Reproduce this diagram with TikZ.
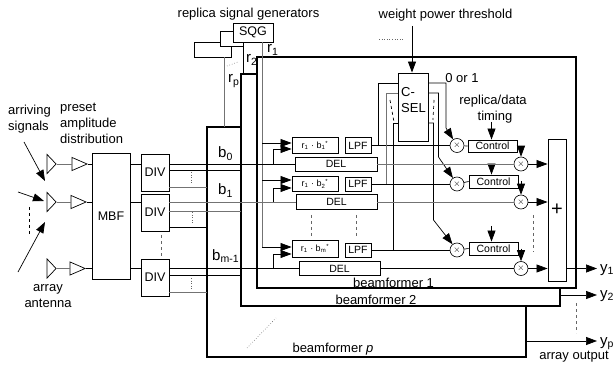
\documentclass[tikz,border=0pt]{standalone}
\usepackage{fontspec}
\setmainfont{Liberation Sans}
\usetikzlibrary{
    positioning,
    arrows.meta,
    shapes.geometric
}
\tikzset{
    wire/.style = {
        line width = 0.7pt
    },
    % Paler signal line:
    grey wire/.style = {
        line width = 0.9pt,
        draw = black!55
    },
    arrow/.style = {
        wire,
        ->,
        > = {
            Triangle[length=11pt, width=8pt]
        }
    },
    % Outline of a beamformer:
    frame/.style = {
        line width = 1.8pt
    },
    % Block with text:
    blockbox/.style = {
        rectangle,
        draw,
        fill = white,
        inner sep = 0pt,
        line width = 0.9pt,
        font = \fontsize{10.5}{12}\selectfont
    },
    big block/.style = {
        blockbox,
        font = \fontsize{12.5}{15}\selectfont
    },
    product/.style = {
        blockbox,
        font = \fontsize{9}{10}\selectfont
    },
    % Multiplier:
    mixer/.style = {
        circle,
        draw,
        fill = white,
        inner sep = 0pt,
        minimum size = 14pt,
        line width = 0.6pt,
        font = \fontsize{9}{10}\selectfont
    },
    % Antenna and amplifier:
    wedge/.style = {
        isosceles triangle,
        isosceles triangle stretches,
        draw,
        inner sep = 0pt,
        anchor = apex,
        line width = 0.7pt
    },
    tag/.style = {
        inner sep = 0pt,
        align = left,
        font = \fontsize{13}{16}\selectfont
    },
    signal/.style = {
        inner sep = 0pt,
        anchor = base west,
        font = \fontsize{15}{17}\selectfont
    },
    gap dots/.style = {
        dotted,
        line width = 0.6pt,
        draw = black!60
    },
    gap dash/.style = {
        dashed,
        line width = 0.9pt,
        draw = black!60
    }
}

\begin{document}
\begin{tikzpicture}[x=1pt, y=-1pt]
    \useasboundingbox (0, 0) rectangle (613, 366);
    % array front end
    \node [wedge, minimum width=19, minimum height=9] (ant1) at (57, 164) {};
    \node [wedge, minimum width=19, minimum height=9] (ant2) at (57, 202) {};
    \node [wedge, minimum width=19, minimum height=9] (ant3) at (57, 268.5) {};
    \node [wedge, minimum width=13, minimum height=15] (amp1) at (88, 164) {};
    \node [wedge, minimum width=13, minimum height=15] (amp2) at (87, 202) {};
    \node [wedge, minimum width=13, minimum height=15] (amp3) at (86, 268.5) {};
    \node [big block, minimum width=38, minimum height=126] (mbf) at (111, 216) {MBF};
    \node [big block, minimum width=28, minimum height=37] (div1) at (155, 172.5) {DIV};
    \node [big block, minimum width=28, minimum height=37] (div2) at (155, 212.5) {DIV};
    \node [big block, minimum width=28, minimum height=37] (div3) at (155, 277.5) {DIV};
    \draw [grey wire] (ant1.apex) -- (amp1.west);
    \draw [grey wire] (ant2.apex) -- (amp2.west);
    \draw [grey wire] (ant3.apex) -- (amp3.west);
    \draw [wire] (amp1.apex) -- (amp1.apex -| mbf.west);
    \draw [wire] (amp2.apex) -- (amp2.apex -| mbf.west);
    \draw [wire] (amp3.apex) -- (amp3.apex -| mbf.west);
    \draw [wire] (amp1.apex -| mbf.east) -- (amp1.apex -| div1.west);
    \draw [wire] (amp2.apex -| mbf.east) -- (amp2.apex -| div2.west);
    \draw [wire] (amp3.apex -| mbf.east) -- (amp3.apex -| div3.west);
    \coordinate (hit1) at (45, 181);
    \coordinate (hit2) at (44, 201);
    \coordinate (hit3) at (45, 222);
    \coordinate (ray1) at (24, 142);
    \coordinate (ray2) at (18, 192);
    \coordinate (ray3) at (18, 272);
    \draw [arrow] (ray1) -- (hit1);
    \draw [arrow] (ray2) -- (hit2);
    \draw [arrow] (ray3) -- (hit3);
    \draw [dashed, line width=0.7pt] (29, 207) -- (29, 237);
    \draw [gap dash] (161, 235) -- (161, 257);
    \node [tag, anchor=north west] (arriving) at (8, 105) {arriving\\signals};
    \node [tag, anchor=north west] (preset) at (60, 103) {preset\\amplitude\\distribution};
    \node [tag, align=center, anchor=north] (antenna) at (48, 284) {array\\antenna};

    % beamformer outlines
    \node [draw, frame, minimum width=319, minimum height=231, inner sep=0pt] (bf1) at (416.5, 172.5) {};
    \coordinate (bf2 corner) at (241, 306);
    \coordinate (bfp corner) at (207, 357);
    \draw [frame] (bf1.west |- 0, 74) -| (bf2 corner) -| (560, 288);
    \draw [frame] (bf2 corner |- 0, 127) -| (bfp corner) -| (526, 306);
    \node [tag] (bf1 name) at (393.5, 283) {beamformer 1};
    \node [tag] (bf2 name) at (376, 300) {beamformer 2};
    \node [tag] (bfp name) at (333, 349) {beamformer \textit{p}};
    \draw [gap dots] (247, 348) -- (276, 318);

    % replica generators
    \node [draw, fill=white, line width=0.9pt, minimum width=37, minimum height=15, inner sep=0pt] (sqg3) at (212.5, 49.5) {};
    \node [draw, fill=white, line width=0.9pt, minimum width=23, minimum height=15, inner sep=0pt] (sqg2) at (231.5, 38.5) {};
    \node [big block, minimum width=40, minimum height=19] (sqg) at (253, 32.5) {SQG};
    \coordinate (r1 top) at (262, 42);
    \coordinate (tap) at (273, 0);
    \draw [grey wire] (sqg3.south -| 224, 0) -- (224, 127);
    \draw [wire] (sqg2.south -| 243, 0) -- (243, 74);
    \draw [grey wire] (r1 top) -- (262, 247);
    \draw [gap dots] (227, 66) -- (238, 62);
    \node [tag] (replica) at (248.5, 14) {replica signal generators};
    \node [signal] (r1 name) at (267, 53) {r\textsubscript{1}};
    \node [signal] (r2 name) at (246, 63) {r\textsubscript{2}};
    \node [signal] (rp name) at (228, 83) {r\textsubscript{p}};

    % first row
    \node [product, minimum width=46, minimum height=16] (mul1) at (315, 145.5) {r\textsubscript{1} · b\textsubscript{1}\textsuperscript{*}};
    \node [blockbox, minimum width=26, minimum height=16] (lpf1) at (358, 145.5) {LPF};
    \node [blockbox, minimum width=82, minimum height=14] (del1) at (336, 164) {DEL};
    \node [mixer] (x1) at (457, 145.5) {$\times$};
    \node [blockbox, minimum width=49, minimum height=12] (ctrl1) at (492.5, 146) {Control};
    \node [mixer] (z1) at (521, 164) {$\times$};
    % second row
    \node [product, minimum width=46, minimum height=15] (mul2) at (315, 183.5) {r\textsubscript{1} · b\textsubscript{2}\textsuperscript{*}};
    \node [blockbox, minimum width=26, minimum height=14] (lpf2) at (358, 184) {LPF};
    \node [blockbox, minimum width=81, minimum height=15] (del2) at (336.5, 202) {DEL};
    \node [mixer] (x2) at (457, 184) {$\times$};
    \node [blockbox, minimum width=49, minimum height=13] (ctrl2) at (493.5, 181.5) {Control};
    \node [mixer] (z2) at (521, 202) {$\times$};
    % last row
    \node [product, minimum width=46, minimum height=17] (mul3) at (315, 248.5) {r\textsubscript{1} · b\textsubscript{m}\textsuperscript{*}};
    \node [blockbox, minimum width=26, minimum height=14] (lpf3) at (358, 250) {LPF};
    \node [blockbox, minimum width=81, minimum height=14] (del3) at (339.5, 268.5) {DEL};
    \node [mixer] (x3) at (457, 250) {$\times$};
    \node [blockbox, minimum width=49, minimum height=13] (ctrl3) at (493.5, 248.5) {Control};
    \node [mixer] (z3) at (521, 268.5) {$\times$};
    \node [big block, minimum width=18, minimum height=142, font=\fontsize{20}{24}\selectfont] (sum) at (557, 210) {+};

    % outputs of the dividers
    \draw [wire] (amp1.apex -| div1.east) -- (del1.west);
    \draw [grey wire] (amp2.apex -| div2.east) -- (del2.west);
    \draw [wire] (amp3.apex -| div3.east) -- (del3.west);
    \draw [wire] (div1.east |- 0, 170) -- (bf2 corner |- 0, 170);
    \draw [grey wire] (div1.east |- 0, 187) -- (bfp corner |- 0, 187);
    \draw [grey wire] (div2.east |- 0, 211) -- (bf2 corner |- 0, 211);
    \draw [wire] (div2.east |- 0, 227) -- (bfp corner |- 0, 227);
    \draw [wire] (div3.east |- 0, 275) -- (bf2 corner |- 0, 275);
    \draw [grey wire] (div3.east |- 0, 292) -- (bfp corner |- 0, 292);
    \draw [gap dots] (191, 172) -- (191, 183);
    \draw [gap dots] (192, 212) -- (192, 223);
    \draw [gap dots] (191, 278) -- (191, 289);
    \node [signal] (b0) at (218, 158) {b\textsubscript{0}};
    \node [signal] (b1) at (218, 195) {b\textsubscript{1}};
    \node [signal] (bm) at (212, 260) {b\textsubscript{m-1}};

    % inputs of the products
    \draw [arrow] (r1 top |- 0, 143) -- ([yshift=2.5pt]mul1.west);
    \draw [arrow] (r1 top |- 0, 180) -- ([yshift=3.5pt]mul2.west);
    \draw [arrow] (r1 top |- 0, 247) -- ([yshift=1.5pt]mul3.west);
    \draw [arrow] (tap |- del1.west) |- ([yshift=-3.5pt]mul1.west);
    \draw [arrow] (tap |- del2.west) |- ([yshift=-4.5pt]mul2.west);
    \draw [arrow] (tap |- del3.west) |- ([yshift=-5.5pt]mul3.west);
    \draw [gap dash] (311, 215) -- (311, 237);
    \draw [gap dash] (356, 215) -- (356, 237);

    % selection
    \node [big block, minimum width=30, minimum height=68, fill=none] (csel) at (413, 107) {};
    \node [tag, anchor=north west] (csel name) at (401, 87) {C-\\SEL};
    \coordinate (threshold) at (412, 26);
    \draw [arrow, line width=0.9pt] (threshold) -- (threshold |- csel.north);
    \node [tag] (weight) at (445.5, 15) {weight power threshold};
    \draw [gap dots] (379, 39) -- (404, 39);
    \coordinate (sel1) at (378, 83);
    \coordinate (sel2) at (386, 93);
    \coordinate (sel3) at (393, 123);
    \draw [wire] (lpf1.east) -- (x1);
    \draw [wire] (lpf2.east) -- (x2);
    \draw [wire] (lpf3.east) -- (x3);
    \draw [wire] (sel1 -| csel.west) -- (sel1) -- (sel1 |- lpf1.east);
    \draw [grey wire] (sel2 -| csel.west) -- (sel2) -- (sel2 |- lpf2.east);
    \draw [wire] (sel3 -| csel.west) -- (sel3) -- (sel3 |- lpf3.east);
    \draw [dash pattern=on 3pt off 3pt, wire] (390, 100) -- (394, 122);
    \draw [dash pattern=on 3pt off 3pt, wire] (434, 100) -- (433, 120);
    \coordinate (bend1) at (446, 128);
    \coordinate (bend2) at (438.5, 157);
    \coordinate (bend3) at (433.5, 220);
    \draw [arrow] (sel1 -| csel.east) -| (bend1) -- (x1);
    \draw [arrow] (sel2 -| csel.east) -| (bend2) -- (x2);
    \draw [arrow] (sel3 -| csel.east) -| (bend3) -- (x3);
    \node [tag] (zero one) at (462, 78) {0 or 1};
    \node [tag] (timing a) at (493, 101) {replica/data};
    \node [tag] (timing b) at (495, 117) {timing};

    % outputs of the rows
    \coordinate (tim1) at (491.5, 122);
    \coordinate (tim2) at (491.5, 166);
    \coordinate (tim3) at (491.5, 226);
    \draw [arrow] (tim1) -- (tim1 |- ctrl1.north);
    \draw [arrow] (tim2) -- (tim2 |- ctrl2.north);
    \draw [arrow] (tim3) -- (tim3 |- ctrl3.north);
    \draw [arrow] (z1 |- ctrl1.east) -- (z1);
    \draw [arrow] (z2 |- ctrl2.east) -- (z2);
    \draw [arrow] (z3 |- ctrl3.east) -- (z3);
    \draw [wire] (x1) -- (ctrl1.west);
    \draw [wire] (x2) -- (ctrl2.west);
    \draw [wire] (x3) -- (ctrl3.west);
    \draw [grey wire] (del1.east) -- (z1);
    \draw [grey wire] (del2.east) -- (z2);
    \draw [wire] (del3.east) -- (z3);
    \draw [arrow] (z1) -- (z1 -| sum.west);
    \draw [arrow] (z2) -- (z2 -| sum.west);
    \draw [arrow] (z3) -- (z3 -| sum.west);
    \draw [gap dash] (533, 215) -- (533, 252);

    % array output
    \node [signal] (y1) at (600, 272) {y\textsubscript{1}};
    \node [signal] (y2) at (600, 298) {y\textsubscript{2}};
    \node [signal] (yp) at (600, 345) {y\textsubscript{p}};
    \draw [arrow] (z3 -| sum.east) -- (597, 268.5);
    \draw [arrow] (560, 295) -- (597, 295);
    \draw [arrow] (526, 341) -- (597, 341);
    \draw [gap dash] (576, 303) -- (576, 333);
    \node [tag] (output) at (574, 357) {array output};
\end{tikzpicture}
\end{document}
